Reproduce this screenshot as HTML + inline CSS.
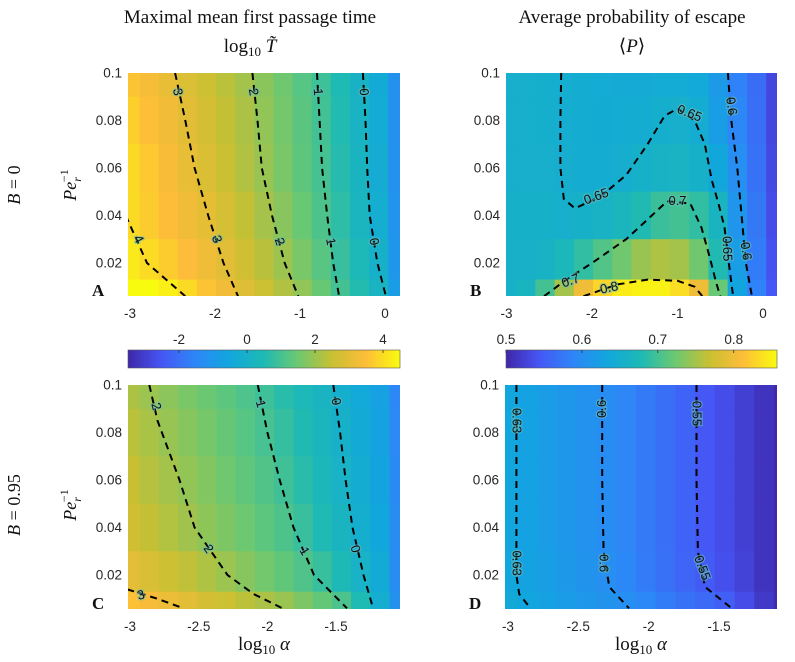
<!DOCTYPE html>
<html><head><meta charset="utf-8"><style>
body{margin:0;background:#fff;}
svg{display:block;font-family:"Liberation Sans",sans-serif;}
.tk{font-size:13.5px;fill:#262626;}
.ser{font-family:"Liberation Serif",serif;fill:#111;}
.cl{paint-order:stroke;stroke-width:2.5px;stroke-opacity:0.55;}
</style></head><body>
<svg id="fig" width="795" height="662" viewBox="0 0 795 662">
<text class="ser" x="250" y="23" font-size="19" text-anchor="middle">Maximal mean first passage time</text>
<text class="ser" x="250" y="52" font-size="19" text-anchor="middle">log<tspan font-size="13" dy="4">10</tspan><tspan dy="-4" font-style="italic"> T̃</tspan></text>
<text class="ser" x="632" y="23" font-size="19" text-anchor="middle">Average probability of escape</text>
<text class="ser" x="632" y="52" font-size="19" text-anchor="middle">⟨<tspan font-style="italic">P</tspan>⟩</text>
<text class="ser" x="0" y="0" font-size="18" text-anchor="middle" transform="translate(20,185) rotate(-90)"><tspan font-style="italic">B</tspan> = 0</text>
<text class="ser" x="0" y="0" font-size="18" text-anchor="middle" transform="translate(20,505) rotate(-90)"><tspan font-style="italic">B</tspan> = 0.95</text>
<g id="plots"></g>
</svg>
<script>
// ---- data ----
const colsA = [-3,-2.775,-2.55,-2.325,-2.1,-1.875,-1.65,-1.425,-1.2,-0.975,-0.75,-0.525,-0.3,-0.075,0.15];
const rowsY = [0.1,0.08,0.06,0.04,0.02,0.006];
const valsA = [
[3.6,3.34,3.09,2.84,2.59,2.35,2.1,1.82,1.53,1.23,0.91,0.5,0.07,-0.35,-1.2],
[3.78,3.51,3.24,2.97,2.71,2.44,2.18,1.9,1.59,1.28,0.96,0.55,0.12,-0.3,-1.2],
[3.95,3.68,3.39,3.1,2.82,2.53,2.25,1.97,1.64,1.32,1.01,0.6,0.17,-0.26,-1.2],
[3.95,3.72,3.48,3.25,3.02,2.73,2.43,2.12,1.8,1.45,1.1,0.7,0.24,-0.2,-1.1],
[4.2,3.97,3.72,3.47,3.22,2.97,2.65,2.34,2.03,1.63,1.24,0.84,0.4,-0.03,-1.0],
[4.7,4.5,4.3,3.96,3.6,3.24,2.89,2.57,2.25,1.9,1.44,0.98,0.57,0.15,-0.8]];
const valsB = [
[0.652,0.652,0.651,0.648,0.645,0.643,0.642,0.642,0.643,0.643,0.638,0.615,0.585,0.565,0.53],
[0.652,0.652,0.651,0.648,0.645,0.644,0.645,0.647,0.651,0.652,0.645,0.62,0.59,0.567,0.53],
[0.653,0.653,0.652,0.649,0.646,0.647,0.649,0.655,0.66,0.662,0.655,0.635,0.6,0.57,0.532],
[0.655,0.655,0.655,0.653,0.655,0.66,0.668,0.68,0.695,0.7,0.69,0.665,0.61,0.575,0.535],
[0.655,0.656,0.66,0.672,0.69,0.708,0.725,0.745,0.755,0.75,0.725,0.68,0.62,0.58,0.54],
[0.655,0.665,0.7,0.75,0.8,0.83,0.845,0.85,0.85,0.835,0.8,0.72,0.63,0.585,0.545]];
const colsC = [-3,-2.86,-2.72,-2.58,-2.44,-2.3,-2.16,-2.02,-1.88,-1.74,-1.6,-1.46,-1.32,-1.18,-1.04];
const valsC = [
[2.19,2.01,1.83,1.65,1.47,1.29,1.11,0.91,0.65,0.4,0.15,-0.11,-0.4,-0.7,-1.5],
[2.35,2.16,1.97,1.79,1.6,1.41,1.23,1.03,0.8,0.53,0.25,-0.03,-0.33,-0.65,-1.45],
[2.5,2.3,2.11,1.92,1.73,1.53,1.34,1.15,0.94,0.65,0.35,0.06,-0.25,-0.6,-1.4],
[2.65,2.45,2.26,2.07,1.87,1.68,1.49,1.29,1.1,0.84,0.51,0.19,-0.15,-0.5,-1.35],
[3.0,2.8,2.6,2.41,2.21,2.01,1.79,1.57,1.35,1.13,0.83,0.44,0.06,-0.35,-1.3],
[3.55,3.35,3.15,2.96,2.72,2.57,2.37,2.18,1.98,1.68,1.38,1.09,0.5,-0.2,-1.2]];
const valsD = [
[0.633,0.626,0.619,0.612,0.605,0.598,0.588,0.577,0.567,0.556,0.545,0.535,0.524,0.512,0.503],
[0.633,0.626,0.619,0.612,0.605,0.598,0.588,0.577,0.567,0.556,0.545,0.535,0.524,0.512,0.503],
[0.633,0.626,0.619,0.612,0.605,0.598,0.588,0.577,0.567,0.556,0.545,0.535,0.524,0.512,0.503],
[0.633,0.626,0.619,0.612,0.605,0.598,0.588,0.577,0.567,0.556,0.545,0.535,0.524,0.512,0.503],
[0.634,0.627,0.62,0.613,0.606,0.6,0.59,0.579,0.569,0.558,0.548,0.537,0.526,0.513,0.503],
[0.64,0.632,0.625,0.618,0.612,0.606,0.6,0.59,0.58,0.57,0.562,0.552,0.535,0.518,0.505]];
const contA = [
 {lv:"4",pts:[[-3.05,0.04],[-2.8,0.02],[-2.35,0.006]],lab:[[-2.9,0.03,62]]},
 {lv:"3",pts:[[-2.47,0.1],[-2.35,0.08],[-2.24,0.06],[-2.08,0.04],[-1.9,0.02],[-1.73,0.006]],lab:[[-2.44,0.092,80],[-1.98,0.03,72]]},
 {lv:"2",pts:[[-1.56,0.1],[-1.5,0.08],[-1.45,0.06],[-1.33,0.04],[-1.18,0.02],[-1.02,0.006]],lab:[[-1.55,0.092,80],[-1.24,0.029,72]]},
 {lv:"1",pts:[[-0.8,0.1],[-0.77,0.08],[-0.74,0.06],[-0.68,0.04],[-0.61,0.02],[-0.54,0.006]],lab:[[-0.79,0.092,85],[-0.64,0.029,80]]},
 {lv:"0",pts:[[-0.26,0.1],[-0.23,0.08],[-0.21,0.06],[-0.18,0.04],[-0.09,0.02],[0.01,0.006]],lab:[[-0.25,0.092,87],[-0.13,0.029,80]]}];
const contB = [
 {lv:"0.65",pts:[[-2.36,0.1],[-2.37,0.08],[-2.37,0.06],[-2.33,0.047],[-2.2,0.043],[-1.9,0.048],[-1.6,0.057],[-1.35,0.07],[-1.15,0.082],[-1.0,0.085],[-0.8,0.08],[-0.68,0.07],[-0.6,0.055],[-0.52,0.045],[-0.45,0.035],[-0.4,0.02],[-0.35,0.006]],lab:[[-0.86,0.083,22],[-1.95,0.048,-20],[-0.42,0.026,88]]},
 {lv:"0.7",pts:[[-2.56,0.006],[-2.3,0.013],[-2.0,0.02],[-1.6,0.03],[-1.3,0.04],[-1.12,0.046],[-0.85,0.045],[-0.72,0.035],[-0.62,0.022],[-0.55,0.012],[-0.5,0.006]],lab:[[-1.0,0.046,0],[-2.25,0.0125,-20]]},
 {lv:"0.8",pts:[[-2.1,0.006],[-1.7,0.011],[-1.35,0.013],[-1.0,0.0125],[-0.8,0.01],[-0.71,0.006]],lab:[[-1.8,0.0095,-12]]},
 {lv:"0.6",pts:[[-0.41,0.1],[-0.37,0.08],[-0.3,0.06],[-0.25,0.04],[-0.2,0.02],[-0.13,0.006]],lab:[[-0.37,0.086,82],[-0.2,0.025,82]]}];
const contC = [
 {lv:"3",pts:[[-3.02,0.014],[-2.8,0.01],[-2.61,0.006]],lab:[[-2.92,0.0115,-15]]},
 {lv:"2",pts:[[-2.86,0.1],[-2.8,0.085],[-2.64,0.06],[-2.53,0.04],[-2.29,0.02],[-2.1,0.012],[-1.89,0.006]],lab:[[-2.81,0.091,75],[-2.43,0.031,55]]},
 {lv:"1",pts:[[-2.07,0.1],[-2.0,0.08],[-1.91,0.06],[-1.81,0.04],[-1.66,0.02],[-1.42,0.006]],lab:[[-2.05,0.092,75],[-1.73,0.03,60]]},
 {lv:"0",pts:[[-1.52,0.1],[-1.47,0.08],[-1.43,0.06],[-1.38,0.04],[-1.3,0.02],[-1.23,0.006]],lab:[[-1.5,0.093,80],[-1.36,0.031,75]]}];
const contD = [
 {lv:"0.63",pts:[[-2.94,0.1],[-2.94,0.06],[-2.94,0.02],[-2.92,0.012],[-2.84,0.006]],lab:[[-2.94,0.085,90],[-2.94,0.025,90]]},
 {lv:"0.6",pts:[[-2.33,0.1],[-2.33,0.06],[-2.32,0.03],[-2.28,0.015],[-2.14,0.006]],lab:[[-2.33,0.09,-90],[-2.32,0.025,90]]},
 {lv:"0.55",pts:[[-1.66,0.1],[-1.66,0.06],[-1.65,0.03],[-1.6,0.015],[-1.41,0.006]],lab:[[-1.66,0.088,90],[-1.62,0.023,70]]}];
const xTicksTop = [-3,-2,-1,0];
const xTicksBot = [-3,-2.5,-2,-1.5];
const yTicks = [0.02,0.04,0.06,0.08,0.1];
const cbTicksA = [-2,0,2,4];
const cbTicksB = [0.5,0.6,0.7,0.8];

// ---- colormap ----
const stops=[[0,62,38,168],[0.12,70,85,245],[0.25,45,135,247],[0.37,17,166,222],[0.5,30,186,180],[0.62,105,200,115],[0.75,200,192,50],[0.87,253,188,58],[1,249,251,14]];
function parula(t){t=Math.max(0,Math.min(1,t));for(let i=1;i<stops.length;i++){if(t<=stops[i][0]){const a=stops[i-1],b=stops[i],f=(t-a[0])/(b[0]-a[0]);return `rgb(${Math.round(a[1]+f*(b[1]-a[1]))},${Math.round(a[2]+f*(b[2]-a[2]))},${Math.round(a[3]+f*(b[3]-a[3]))})`;}}return 'rgb(249,251,14)';}
const NS="http://www.w3.org/2000/svg";
function mk(tag,attrs,parent){const e=document.createElementNS(NS,tag);for(const k in attrs)e.setAttribute(k,attrs[k]);parent.appendChild(e);return e;}
const root=document.getElementById('plots');
function fmt(v){return String(v);}

function panel(id,px,cols,vals,conts,cmin,cmax,xticks,letter){
  const g=mk('g',{},root);
  
  
  const sx=v=>px.x0+(v-px.xmin)/(px.xmax-px.xmin)*(px.x1-px.x0);
  const sy=v=>px.y1-(v-px.ymin)/(px.ymax-px.ymin)*(px.y1-px.y0);
  const cp=mk('clipPath',{id:'clip'+id},g);
  mk('rect',{x:px.x0,y:px.y0,width:px.x1-px.x0,height:px.y1-px.y0},cp);
  const hm=mk('g',{'clip-path':`url(#clip${id})`},g);
  
  
  for(let r=0;r<rowsY.length;r++){
    const yTop=r===0?rowsY[0]+0.01:(rowsY[r-1]+rowsY[r])/2;
    const yBot=r===rowsY.length-1?rowsY[r]-0.01:(rowsY[r]+rowsY[r+1])/2;
    for(let c=0;c<cols.length;c++){
      const xl=c===0?cols[0]-0.2:(cols[c-1]+cols[c])/2;
      const xr=c===cols.length-1?cols[c]+0.2:(cols[c]+cols[c+1])/2;
      const X0=sx(xl),X1=sx(xr),Y0=sy(yTop),Y1=sy(yBot);
      const rc=mk('rect',{x:X0.toFixed(1),y:Y0.toFixed(1),width:(X1-X0+0.6).toFixed(1),height:(Y1-Y0+0.6).toFixed(1),fill:parula((vals[r][c]-cmin)/(cmax-cmin))},hm);
      
      
    }
  }
  const cg=mk('g',{'clip-path':`url(#clip${id})`},g);
  conts.forEach(ct=>{
    const p=mk('polyline',{points:ct.pts.map(q=>sx(q[0]).toFixed(1)+','+sy(q[1]).toFixed(1)).join(' '),fill:'none',stroke:'#000','stroke-width':2,'stroke-dasharray':'7,5'},cg);
    
    
    ct.lab.forEach(l=>{
      const t=mk('text',{x:0,y:4,'font-size':13,'text-anchor':'middle',fill:'#111',class:'cl',stroke:'#6ac0c0',transform:`translate(${sx(l[0]).toFixed(1)},${sy(l[1]).toFixed(1)}) rotate(${l[2]})`},cg);
      t.textContent=ct.lv;
      
      
    });
  });
  yTicks.forEach(v=>{
    const t=mk('text',{x:px.x0-6,y:sy(v)+4.5,'text-anchor':'end',class:'tk'},g);
    t.textContent=fmt(v);
    
    
  });
  xticks.forEach(v=>{
    const t=mk('text',{x:sx(v),y:px.y1+22,'text-anchor':'middle',class:'tk'},g);
    t.textContent=fmt(v);
    
    
  });
  const L=mk('text',{x:px.x0-36,y:px.y1,'font-size':17,'font-weight':'bold',class:'ser'},g);
  L.textContent=letter;
  
  
}
function colorbar(id,x0,x1,y0,y1,cmin,cmax,ticks){
  const g=mk('g',{},root);
  
  
  const gr=mk('linearGradient',{id:'gr'+id,x1:0,x2:1,y1:0,y2:0},g);
  for(let i=0;i<=40;i++){mk('stop',{offset:i/40,'stop-color':parula(i/40)},gr);}
  mk('rect',{x:x0,y:y0,width:x1-x0,height:y1-y0,fill:`url(#gr${id})`,stroke:'#555','stroke-width':0.6},g);
  ticks.forEach(v=>{
    const X=x0+(v-cmin)/(cmax-cmin)*(x1-x0);
    mk('line',{x1:X,x2:X,y1:y0,y2:y0+3,stroke:'#333','stroke-width':0.8},g);
    const t=mk('text',{x:X,y:y0-6,'text-anchor':'middle',class:'tk'},g);
    t.textContent=fmt(v);
    
    
  });
}
panel('A',{x0:128,x1:400,xmin:-3.0235,xmax:0.176,y0:73,y1:296,ymin:0.0061,ymax:0.1},colsA,valsA,contA,-3.5,4.5,xTicksTop,'A');
panel('B',{x0:506,x1:777,xmin:-3.006,xmax:0.164,y0:73,y1:296,ymin:0.0061,ymax:0.1},colsA,valsB,contB,0.5,0.857,xTicksTop,'B');
panel('C',{x0:128,x1:400,xmin:-3.015,xmax:-1.034,y0:385,y1:609,ymin:0.0057,ymax:0.1},colsC,valsC,contC,-3.5,4.5,xTicksBot,'C');
panel('D',{x0:505,x1:777,xmin:-3.021,xmax:-1.088,y0:385,y1:609,ymin:0.0057,ymax:0.1},colsC,valsD,contD,0.5,0.857,xTicksBot,'D');
colorbar('A',128,400,350,368,-3.5,4.5,cbTicksA);
colorbar('B',506,777,350,368,0.5,0.857,cbTicksB);
[[76,185],[76,505]].forEach(p=>{
  const t=mk('text',{x:0,y:0,'font-size':18,'text-anchor':'middle',class:'ser',transform:`translate(${p[0]},${p[1]}) rotate(-90)`},root);
  t.innerHTML='<tspan font-style="italic">Pe</tspan><tspan font-size="12" font-style="italic" dy="5">r</tspan><tspan font-size="12" dy="-13" dx="-5">−1</tspan>';
  
  
});
[[264,650],[641,650]].forEach(p=>{
  const t=mk('text',{x:p[0],y:p[1],'font-size':19,'text-anchor':'middle',class:'ser'},root);
  t.innerHTML='log<tspan font-size="13" dy="4">10</tspan><tspan dy="-4" font-style="italic"> α</tspan>';
  
  
});
</script>
</body></html>
